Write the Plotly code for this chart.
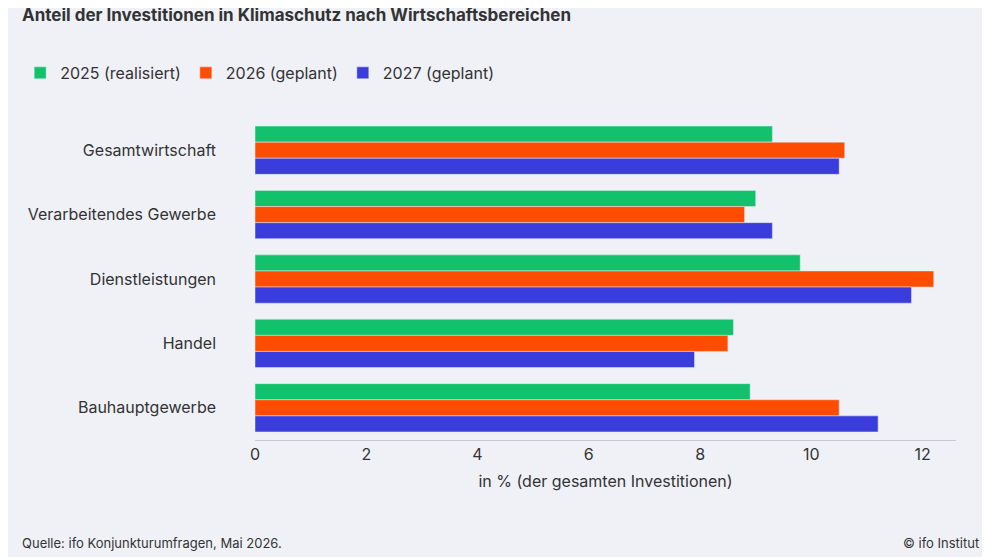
import plotly.graph_objects as go

categories = ["Gesamtwirtschaft", "Verarbeitendes Gewerbe", "Dienstleistungen", "Handel", "Bauhauptgewerbe"]
series_names = ["2025 (realisiert)", "2026 (geplant)", "2027 (geplant)"]
values_2025 = [9.3, 9.0, 9.8, 8.6, 8.9]
values_2026 = [10.6, 8.8, 12.2, 8.5, 10.5]
values_2027 = [10.5, 9.3, 11.8, 7.9, 11.2]
tick_values = [0, 2, 4, 6, 8, 10, 12]

COLORS = ["#12c16b", "#ff4d00", "#3a3ddb"]
BG = "#eff1f7"
FONT = "Inter"

fig = go.Figure()
for name, vals, color in zip(series_names, [values_2025, values_2026, values_2027], COLORS):
    fig.add_trace(go.Bar(y=categories, x=vals, name=name, orientation="h", marker_color=color))

fig.update_layout(
    width=982,
    height=549,
    paper_bgcolor=BG,
    plot_bgcolor=BG,
    barmode="group",
    bargap=0.25,
    bargroupgap=0,
    font=dict(family=FONT, size=16, color="#333333"),
    margin=dict(l=238, r=34, t=110, b=117),
    legend=dict(
        orientation="h", x=-0.335, xanchor="left", y=1.14, yanchor="middle",
        font=dict(size=16, color="#333333"), traceorder="normal",
    ),
    xaxis=dict(
        range=[0, 12.6], tickvals=tick_values, showgrid=False, zeroline=False,
        ticks="", tickfont=dict(size=16, color="#333333"),
        title=dict(text="in % (der gesamten Investitionen)", font=dict(size=16), standoff=12),
        showline=True, linecolor="#c8cad2",
    ),
    yaxis=dict(autorange="reversed", showgrid=False, ticks="", ticklabelstandoff=38,
               tickfont=dict(size=16, color="#333333")),
)

fig.add_annotation(text="<b>Anteil der Investitionen in Klimaschutz nach Wirtschaftsbereichen</b>",
                   xref="paper", yref="paper", x=-0.335, y=1.32, xanchor="left", yanchor="middle",
                   showarrow=False, font=dict(size=17, color="#333333"))
fig.add_annotation(text="Quelle: ifo Konjunkturumfragen, Mai 2026.", xref="paper", yref="paper",
                   x=-0.335, y=-0.32, xanchor="left", yanchor="middle", showarrow=False,
                   font=dict(size=13, color="#333333"))
fig.add_annotation(text="© ifo Institut", xref="paper", yref="paper", x=1.035, y=-0.32,
                   xanchor="right", yanchor="middle", showarrow=False,
                   font=dict(size=13, color="#333333"))

fig.write_html("out.html")
